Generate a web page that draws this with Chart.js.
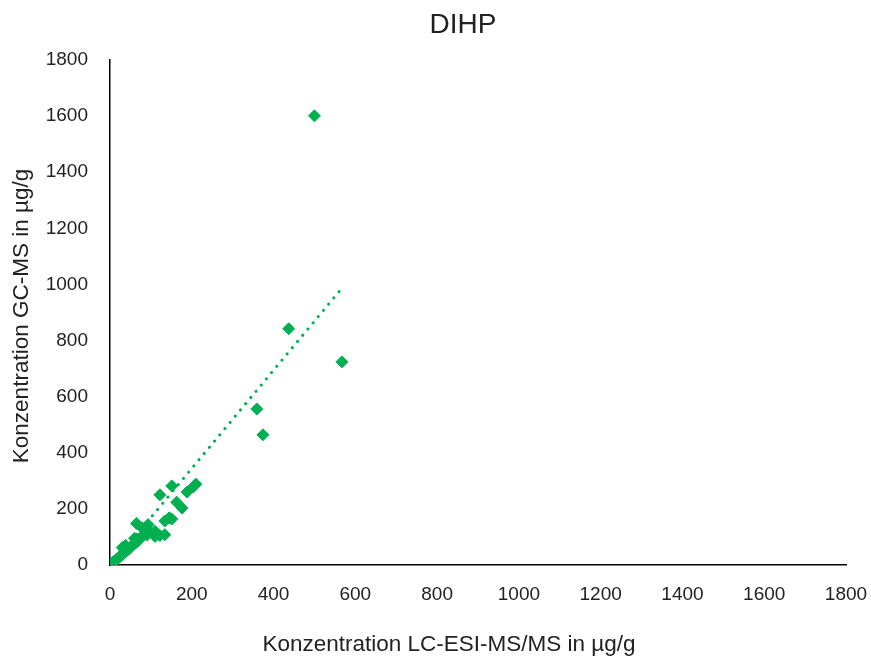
<!DOCTYPE html>
<html lang="de">
<head>
    <meta charset="UTF-8">
    <title>DIHP</title>
    <style>
        html, body {
            margin: 0;
            padding: 0;
            background: #ffffff;
        }

        .chart-box {
            width: 871px;
            height: 663px;
        }
    </style>
</head>
<body>
    <div class="chart-box">
        <canvas id="dihpChart" width="871" height="663"></canvas>
    </div>

    <script src="https://cdn.jsdelivr.net/npm/chart.js"></script>
    <script>
        // Messwerte: LC-ESI-MS/MS (x) gegen GC-MS (y), in µg/g
        const lcValues = [
            0, 1, 3, 4, 6, 8, 9, 11, 13, 15, 17, 19, 21, 23, 25, 27, 30, 32, 35, 37,
            40, 43, 46, 49, 52, 55, 58, 62, 65, 69, 73, 77,
            30, 38, 60, 65, 78, 93, 90, 98, 110, 122, 134, 110,
            134, 151, 145, 122, 151, 163, 176, 188, 203, 210,
            359, 374, 437, 500, 567
        ];
        const gcValues = [
            0, 2, 4, 3, 8, 9, 12, 14, 15, 19, 21, 24, 26, 30, 31, 34, 37, 40, 44, 46,
            50, 54, 58, 62, 66, 70, 73, 78, 82, 88, 94, 100,
            62, 70, 95, 148, 133, 144, 107, 118, 102, 105, 108, 120,
            157, 164, 168, 250, 282, 224, 203, 260, 278, 288,
            556, 464, 842, 1601, 724
        ];

        // Trendlinie (linear), Endpunkte
        const trendX = [2, 561];
        const trendY = [-2, 976];

        // Achsenbeschriftung
        const tickMin = 0;
        const tickMax = 1800;
        const tickStep = 200;

        const chartTitle = 'DIHP';
        const xTitle = 'Konzentration LC-ESI-MS/MS in µg/g';
        const yTitle = 'Konzentration GC-MS in µg/g';

        const points = lcValues.map((x, i) => ({ x: x, y: gcValues[i] }));
        const trendPoints = trendX.map((x, i) => ({ x: x, y: trendY[i] }));

        const green = '#00B050';
        const textColor = '#222222';
        const fontFamily = "'Liberation Sans', Arial, sans-serif";

        // Titel wie in Excel platzieren (nicht exakt über der Zeichenfläche zentriert)
        const titlePlugin = {
            id: 'excelTitles',
            afterDraw(chart) {
                const ctx = chart.ctx;
                ctx.save();
                ctx.fillStyle = textColor;
                ctx.textAlign = 'center';
                ctx.textBaseline = 'middle';

                ctx.font = '28px ' + fontFamily;
                ctx.fillText(chartTitle, 463, 25);

                ctx.font = '22.5px ' + fontFamily;
                ctx.fillText(xTitle, 449, 645);

                ctx.translate(22, 316);
                ctx.rotate(-Math.PI / 2);
                ctx.fillText(yTitle, 0, 0);
                ctx.restore();
            }
        };

        new Chart(document.getElementById('dihpChart').getContext('2d'), {
            type: 'scatter',
            data: {
                datasets: [
                    {
                        label: 'DIHP',
                        data: points,
                        pointStyle: 'rectRot',
                        pointRadius: 6,
                        pointBorderWidth: 1,
                        pointBackgroundColor: green,
                        pointBorderColor: green,
                        order: 1
                    },
                    {
                        label: 'Linear (DIHP)',
                        type: 'line',
                        data: trendPoints,
                        borderColor: green,
                        borderWidth: 3,
                        borderDash: [0.1, 8],
                        borderCapStyle: 'round',
                        pointRadius: 0,
                        fill: false,
                        order: 2
                    }
                ]
            },
            options: {
                responsive: false,
                animation: false,
                layout: {
                    padding: { left: 0, right: 0, top: 60, bottom: 0 }
                },
                plugins: {
                    legend: { display: false },
                    tooltip: { enabled: false },
                    title: { display: false }
                },
                scales: {
                    x: {
                        type: 'linear',
                        min: tickMin,
                        max: tickMax,
                        afterFit: function(scale) {
                            scale.height = 98;
                            scale.paddingRight = 25;
                            scale.paddingLeft = 0;
                        },
                        ticks: {
                            stepSize: tickStep,
                            color: textColor,
                            padding: 18,
                            maxRotation: 0,
                            font: { family: fontFamily, size: 19 },
                            callback: (v) => String(v)
                        },
                        grid: { display: false, drawTicks: false },
                        border: { display: true, color: '#000000', width: 1.5 }
                    },
                    y: {
                        type: 'linear',
                        min: tickMin,
                        max: tickMax,
                        afterFit: function(scale) { scale.width = 110; },
                        ticks: {
                            stepSize: tickStep,
                            color: textColor,
                            padding: 22,
                            font: { family: fontFamily, size: 19 },
                            callback: (v) => String(v)
                        },
                        grid: { display: false, drawTicks: false },
                        border: { display: true, color: '#000000', width: 1.5 }
                    }
                }
            },
            plugins: [titlePlugin]
        });
    </script>
</body>
</html>
